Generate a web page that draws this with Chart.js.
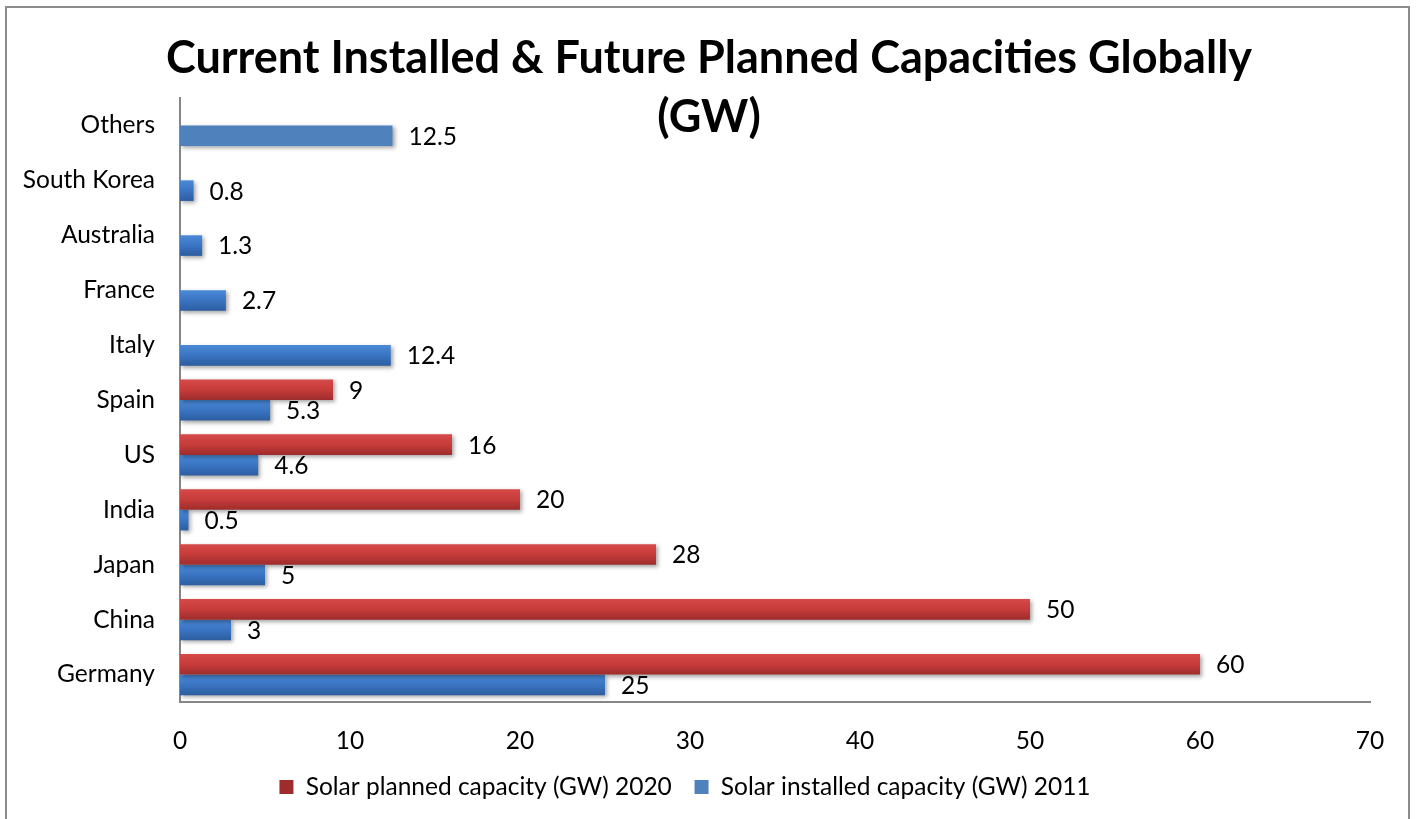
<!DOCTYPE html>
<html>
<head>
<meta charset="utf-8">
<script src="https://cdn.jsdelivr.net/npm/chart.js@4"></script>
<style>
  html, body { margin: 0; padding: 0; background: #fff; overflow: hidden; }
  #wrap { position: relative; width: 1418px; height: 819px; }
  #frame { position: absolute; left: 5px; top: 6px; width: 1405px; height: 900px;
           border: 2px solid #8c8c8c; box-sizing: border-box; }
  canvas { position: absolute; left: 0; top: 0; }
</style>
</head>
<body>
<div id="wrap">
  <div id="frame"></div>
  <canvas id="myChart" width="1418" height="819"></canvas>
</div>
<script>
// categories, top to bottom
var countries = ['Others', 'South Korea', 'Australia', 'France', 'Italy', 'Spain', 'US', 'India', 'Japan', 'China', 'Germany'];
var planned2020 = [null, null, null, null, null, 9, 16, 20, 28, 50, 60];
var installed2011 = [12.5, 0.8, 1.3, 2.7, 12.4, 5.3, 4.6, 0.5, 5, 3, 25];
var xTicks = [0, 10, 20, 30, 40, 50, 60, 70];

var FONT = 'Lato, "Open Sans", sans-serif';
var FS = 24.5;

// vertical gradient for each bar, worked out from the category scale
function barFill(top, bottom, flat, side) {
  return function (ctx) {
    var chart = ctx.chart;
    var y = chart.scales && chart.scales.y;
    if (ctx.dataIndex === undefined || !y || !chart.chartArea) return flat;
    if (ctx.datasetIndex === 1 && ctx.dataIndex === 0) return '#4f81bd'; // Others is plain
    var c = y.getPixelForValue(ctx.dataIndex);
    var band = y.height / countries.length * 0.75 / 2;
    var y0 = side < 0 ? c - band : c;
    var g = chart.ctx.createLinearGradient(0, y0, 0, y0 + band);
    g.addColorStop(0, top);
    g.addColorStop(0.5, flat);
    g.addColorStop(1, bottom);
    return g;
  };
}

var shadow = {
  id: 'shadow',
  beforeDatasetsDraw: function (chart) {
    var c = chart.ctx;
    c.save();
    c.shadowColor = 'rgba(0,0,0,0.35)';
    c.shadowBlur = 4;
    c.shadowOffsetX = 2;
    c.shadowOffsetY = 2;
  },
  afterDatasetsDraw: function (chart) {
    chart.ctx.restore();
  }
};

var valueLabels = {
  id: 'valueLabels',
  afterDatasetsDraw: function (chart) {
    var c = chart.ctx;
    c.save();
    c.font = FS + 'px ' + FONT;
    c.fillStyle = '#000';
    c.textAlign = 'left';
    c.textBaseline = 'middle';
    chart.data.datasets.forEach(function (ds, i) {
      chart.getDatasetMeta(i).data.forEach(function (bar, j) {
        var v = ds.data[j];
        if (v === null || v === undefined) return;
        c.fillText(String(v), bar.x + 16, bar.y + 1);
      });
    });
    c.restore();
  }
};

var bigTitle = {
  id: 'bigTitle',
  afterDraw: function (chart) {
    var c = chart.ctx;
    c.save();
    c.font = 'bold 45px ' + FONT;
    c.fillStyle = '#000';
    c.textAlign = 'center';
    c.textBaseline = 'middle';
    c.fillText('Current Installed & Future Planned Capacities Globally', 709, 58);
    c.fillText('(GW)', 709, 117);
    c.restore();
  }
};

new Chart('myChart', {
  type: 'bar',
  data: {
    labels: countries,
    datasets: [{
      label: 'Solar planned capacity (GW) 2020',
      data: planned2020,
      backgroundColor: barFill('#d64a48', '#9e2c2c', '#c63c3b', -1),
      categoryPercentage: 0.75,
      barPercentage: 1.0
    }, {
      label: 'Solar installed capacity (GW) 2011',
      data: installed2011,
      backgroundColor: barFill('#4a8ad8', '#2c5d9f', '#3a74c2', 1),
      categoryPercentage: 0.75,
      barPercentage: 1.0
    }]
  },
  options: {
    indexAxis: 'y',
    responsive: false,
    animation: false,
    layout: { padding: { top: 98, right: 48, left: 0, bottom: 9.75 } },
    scales: {
      x: {
        min: 0,
        max: 70,
        afterBuildTicks: function (s) { s.ticks = xTicks.map(function (v) { return { value: v }; }); },
        grid: { display: false, drawTicks: false },
        border: { display: true, color: '#868686', width: 2 },
        ticks: { color: '#000', font: { family: FONT, size: FS }, padding: 24, maxRotation: 0 },
        afterFit: function (s) { s.height = 50; }
      },
      y: {
        grid: { display: false, drawTicks: false },
        border: { display: true, color: '#868686', width: 2 },
        ticks: { color: '#000', font: { family: FONT, size: FS }, padding: 25 },
        afterFit: function (s) { s.width = 180; }
      }
    },
    plugins: {
      title: { display: false },
      tooltip: { enabled: false },
      legend: {
        position: 'bottom',
        labels: {
          color: '#000',
          font: { family: FONT, size: FS },
          boxWidth: 14,
          boxHeight: 14,
          padding: 22.75
        }
      }
    }
  },
  plugins: [shadow, valueLabels, bigTitle]
});
</script>
</body>
</html>
